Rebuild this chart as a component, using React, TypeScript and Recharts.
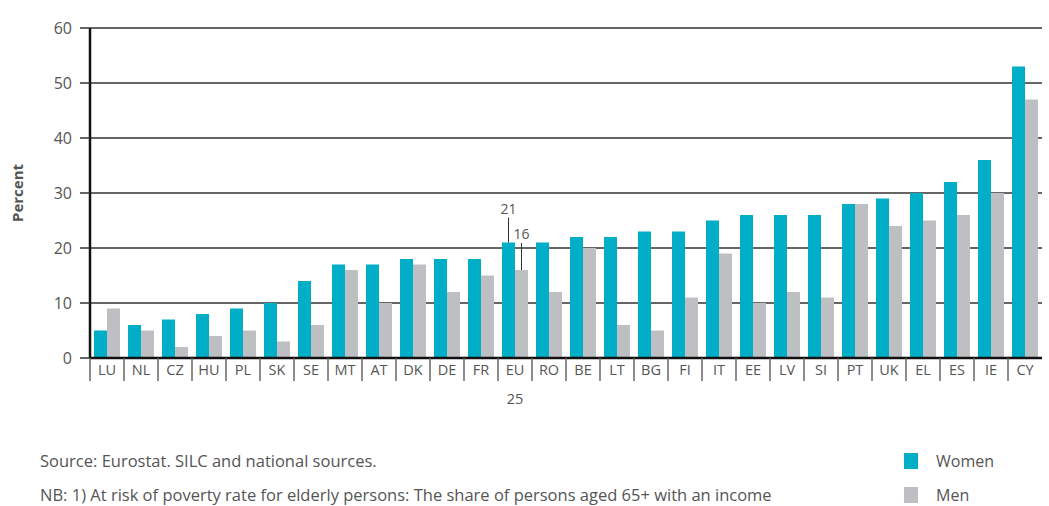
import React from 'react';
import { BarChart, Bar, XAxis, YAxis, CartesianGrid } from 'recharts';

const countries = ['LU', 'NL', 'CZ', 'HU', 'PL', 'SK', 'SE', 'MT', 'AT', 'DK', 'DE', 'FR', 'EU', 'RO', 'BE', 'LT', 'BG', 'FI', 'IT', 'EE', 'LV', 'SI', 'PT', 'UK', 'EL', 'ES', 'IE', 'CY'];
const women = [5, 6, 7, 8, 9, 10, 14, 17, 17, 18, 18, 18, 21, 21, 22, 22, 23, 23, 25, 26, 26, 26, 28, 29, 30, 32, 36, 53];
const men = [9, 5, 2, 4, 5, 3, 6, 16, 10, 17, 12, 15, 16, 12, 20, 6, 5, 11, 19, 10, 12, 11, 28, 24, 25, 26, 30, 47];
const yTicks = [0, 10, 20, 30, 40, 50, 60];
const subLabels: Record<string, string> = { EU: '25' };
const calloutCountry = 'EU';

const WOMEN_COLOR = '#00aec7';
const MEN_COLOR = '#bebfc2';
const TEXT = '#555';
const FONT = '"Open Sans", "Noto Sans", sans-serif';

const data = countries.map((c, i) => ({ name: c, Women: women[i], Men: men[i] }));

const CHART_W = 1049;
const CHART_H = 420;
const PLOT_LEFT = 90;
const PLOT_RIGHT = 7;
const BAND = (CHART_W - PLOT_LEFT - PLOT_RIGHT) / countries.length;

function CountryTick(props: any) {
  const { x, y, payload } = props;
  const sub = subLabels[payload.value];
  const left = x - BAND / 2;
  return (
    <g>
      <line x1={left} x2={left} y1={y - 8} y2={y + 15} stroke="#666" strokeWidth={1.5} />
      <text x={x} y={y + 9} textAnchor="middle" fill={TEXT} fontSize={14.5} fontFamily={FONT}>
        {payload.value}
      </text>
      {sub && (
        <text x={x} y={y + 38} textAnchor="middle" fill={TEXT} fontSize={14.5} fontFamily={FONT}>
          {sub}
        </text>
      )}
    </g>
  );
}

function makeCallout(rise: number) {
  return (props: any) => {
    const { x, y, width, value, index } = props;
    if (countries[index] !== calloutCountry) return null;
    const cx = x + width / 2;
    return (
      <g>
        <line x1={cx} x2={cx} y1={y} y2={y - rise} stroke="#333" strokeWidth={1} />
        <text x={cx} y={y - rise - 4} textAnchor="middle" fill={TEXT} fontSize={14} fontFamily={FONT}>
          {value}
        </text>
      </g>
    );
  };
}

export default function App() {
  return (
    <div style={{ position: 'absolute', left: 0, top: 0, width: 1049, height: 506, background: '#fff', fontFamily: FONT, overflow: 'hidden' }}>
      <BarChart
        width={CHART_W}
        height={CHART_H}
        data={data}
        margin={{ top: 28, right: PLOT_RIGHT, left: 30, bottom: 32 }}
        barGap={0}
        barSize={13}
      >
        <CartesianGrid vertical={false} stroke="#333" strokeWidth={1.5} />
        <XAxis
          dataKey="name"
          interval={0}
          height={30}
          tickLine={false}
          axisLine={{ stroke: '#111', strokeWidth: 2.5 }}
          tick={<CountryTick />}
        />
        <YAxis
          domain={[0, 60]}
          ticks={yTicks}
          width={60}
          tickSize={10}
          tickMargin={8}
          tickLine={{ stroke: '#333', strokeWidth: 1.5 }}
          axisLine={{ stroke: '#111', strokeWidth: 2.5 }}
          tick={{ fill: TEXT, fontSize: 16, fontFamily: FONT }}
          label={{ value: 'Percent', angle: -90, position: 'insideLeft', offset: -12, fill: TEXT, fontSize: 15, fontWeight: 'bold', fontFamily: FONT, style: { textAnchor: 'middle' } }}
        />
        <Bar dataKey="Women" fill={WOMEN_COLOR} isAnimationActive={false} label={makeCallout(25)} />
        <Bar dataKey="Men" fill={MEN_COLOR} isAnimationActive={false} label={makeCallout(27)} />
      </BarChart>
      <div style={{ position: 'absolute', left: 40, top: 451, fontSize: 16.5, lineHeight: '20px', color: TEXT, whiteSpace: 'nowrap' }}>
        Source: Eurostat. SILC and national sources.
      </div>
      <div style={{ position: 'absolute', left: 40, top: 485, fontSize: 16.5, lineHeight: '20px', color: TEXT, whiteSpace: 'nowrap' }}>
        NB: 1) At risk of poverty rate for elderly persons: The share of persons aged 65+ with an income
      </div>
      <div style={{ position: 'absolute', left: 904, top: 451, fontSize: 16, lineHeight: '20px', color: TEXT, display: 'flex', alignItems: 'center' }}>
        <span style={{ display: 'inline-block', width: 14, height: 16, background: WOMEN_COLOR, marginRight: 18 }} />
        Women
      </div>
      <div style={{ position: 'absolute', left: 904, top: 485, fontSize: 16, lineHeight: '20px', color: TEXT, display: 'flex', alignItems: 'center' }}>
        <span style={{ display: 'inline-block', width: 14, height: 16, background: MEN_COLOR, marginRight: 18 }} />
        Men
      </div>
    </div>
  );
}
